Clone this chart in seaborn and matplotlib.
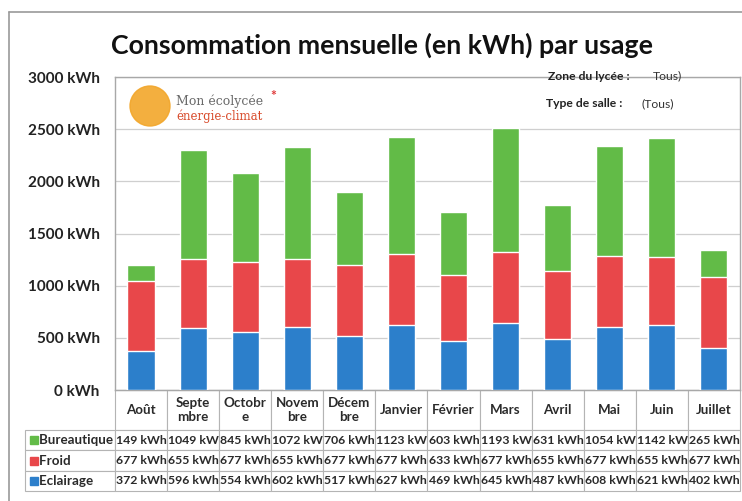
import matplotlib
matplotlib.use('Agg')
import matplotlib.pyplot as plt
import matplotlib.patches as mpatches
import pandas as pd
import seaborn as sns

# chart values
mois = ['Août', 'Septembre', 'Octobre', 'Novembre', 'Décembre', 'Janvier',
        'Février', 'Mars', 'Avril', 'Mai', 'Juin', 'Juillet']
entetes = ['Août', 'Septe\nmbre', 'Octobr\ne', 'Novem\nbre', 'Décem\nbre', 'Janvier',
           'Février', 'Mars', 'Avril', 'Mai', 'Juin', 'Juillet']
bureautique = [149, 1049, 845, 1072, 706, 1123, 603, 1193, 631, 1054, 1142, 265]
froid = [677, 655, 677, 655, 677, 677, 633, 677, 655, 677, 655, 677]
eclairage = [372, 596, 554, 602, 517, 627, 469, 645, 487, 608, 621, 402]
yticks = [0, 500, 1000, 1500, 2000, 2500, 3000]

c_bur = '#62bb47'
c_fro = '#e8474a'
c_ecl = '#2c7fcb'

df = pd.DataFrame({'mois': mois, 'Bureautique': bureautique,
                   'Froid': froid, 'Eclairage': eclairage})
df['cum_froid'] = df['Eclairage'] + df['Froid']
df['cum_total'] = df['cum_froid'] + df['Bureautique']

sns.set_style('white')
plt.rcParams['font.family'] = ['Lato', 'DejaVu Sans']

W, H = 742, 501
fig = plt.figure(figsize=(W / 100, H / 100), dpi=100)
fig.patch.set_facecolor('white')

def fx(x):
    return x / W

def fy(y):
    return 1 - y / H

ax = fig.add_axes([fx(115), fy(390), fx(740) - fx(115), fy(77) - fy(390)])

bw = 0.52
sns.barplot(data=df, x='mois', y='cum_total', order=mois, color=c_bur,
            width=bw, saturation=1, ax=ax, zorder=3)
sns.barplot(data=df, x='mois', y='cum_froid', order=mois, color=c_fro,
            width=bw, saturation=1, ax=ax, zorder=3)
sns.barplot(data=df, x='mois', y='Eclairage', order=mois, color=c_ecl,
            width=bw, saturation=1, ax=ax, zorder=3)

ax.set_ylim(0, 3000)
ax.set_xlim(-0.5, len(mois) - 0.5)
ax.set_yticks(yticks)
ax.set_yticklabels([f'{v} kWh' for v in yticks], fontsize=11, fontweight='bold',
                   color='#222222')
ax.tick_params(axis='y', length=0, pad=11)
ax.set_xticks([])
ax.set_xlabel('')
ax.set_ylabel('')
ax.yaxis.grid(True, color='#cfcfcf', linewidth=0.9, zorder=0)
ax.set_axisbelow(True)
for s in ax.spines.values():
    s.set_color('#a8a8a8')
    s.set_linewidth(1)

# data table under the chart
cell_text = [[f'{v} kWh' for v in bureautique],
             [f'{v} kWh' for v in froid],
             [f'{v} kWh' for v in eclairage]]
row_labels = ['    Bureautique', '    Froid', '    Eclairage']
tab_h = 101 / 313
tbl = ax.table(cellText=cell_text, rowLabels=row_labels, colLabels=entetes,
               cellLoc='left', rowLoc='left', colLoc='center',
               bbox=[0, -tab_h, 1, tab_h])
tbl.auto_set_font_size(False)
for (r, c), cell in tbl.get_celld().items():
    cell.set_edgecolor('#b4b4b4')
    cell.set_linewidth(0.8)
    cell.get_text().set_fontsize(8.8)
    cell.get_text().set_fontweight('bold')
    cell.get_text().set_color('#2a2a2a')
    cell.PAD = 0.02
    if c == -1:
        cell.set_width(90 / 625)
        cell.get_text().set_fontsize(9.6)
    else:
        cell.set_width(1 / 12)
    if r == 0:
        cell.set_height(40)
        cell.get_text().set_fontsize(9.6)
    else:
        cell.set_height(20.3)

# legend keys in the row labels
for i, col in enumerate([c_bur, c_fro, c_ecl]):
    yc = 430 + 20.3 * i + 10.2
    fig.patches.append(mpatches.Rectangle((fx(30), fy(yc + 4)), fx(8), fy(yc - 4) - fy(yc + 4),
                                          transform=fig.transFigure, color=col))

# title and filters
fig.text(fx(382), fy(45), 'Consommation mensuelle (en kWh) par usage', ha='center',
         va='center', fontsize=19.3, fontweight='bold', color='#111111')
fig.text(fx(548), fy(76), 'Zone du lycée :', fontsize=8.7, fontweight='bold',
         va='center', color='#222222')
fig.text(fx(653), fy(76), 'Tous)', fontsize=8.7, va='center', color='#333333')
fig.text(fx(546), fy(104), 'Type de salle :', fontsize=8.7, fontweight='bold',
         va='center', color='#222222')
fig.text(fx(641), fy(104), '(Tous)', fontsize=8.7, va='center', color='#333333')

# logo
fig.patches.append(mpatches.Ellipse((fx(150), fy(106)), fx(40), fy(86) - fy(126),
                                    transform=fig.transFigure, color='#f2a62a', alpha=0.9))
fig.text(fx(176), fy(101), 'Mon écolycée', family='DejaVu Serif', fontsize=9,
         color='#6a6a6a', va='center')
fig.text(fx(270), fy(96), '*', fontsize=10, color='#e03a3a', va='center', fontweight='bold')
fig.text(fx(176), fy(116), 'énergie-climat', family='DejaVu Serif', fontsize=8.5,
         color='#d84a2a', va='center')

# outer frame
fig.lines.append(plt.Line2D([fx(9), fx(9)], [0, fy(12)], transform=fig.transFigure,
                            color='#9a9a9a', linewidth=1.2))
fig.lines.append(plt.Line2D([fx(9), 1], [fy(12), fy(12)], transform=fig.transFigure,
                            color='#9a9a9a', linewidth=1.2))

fig.savefig('out.png', dpi=100)
